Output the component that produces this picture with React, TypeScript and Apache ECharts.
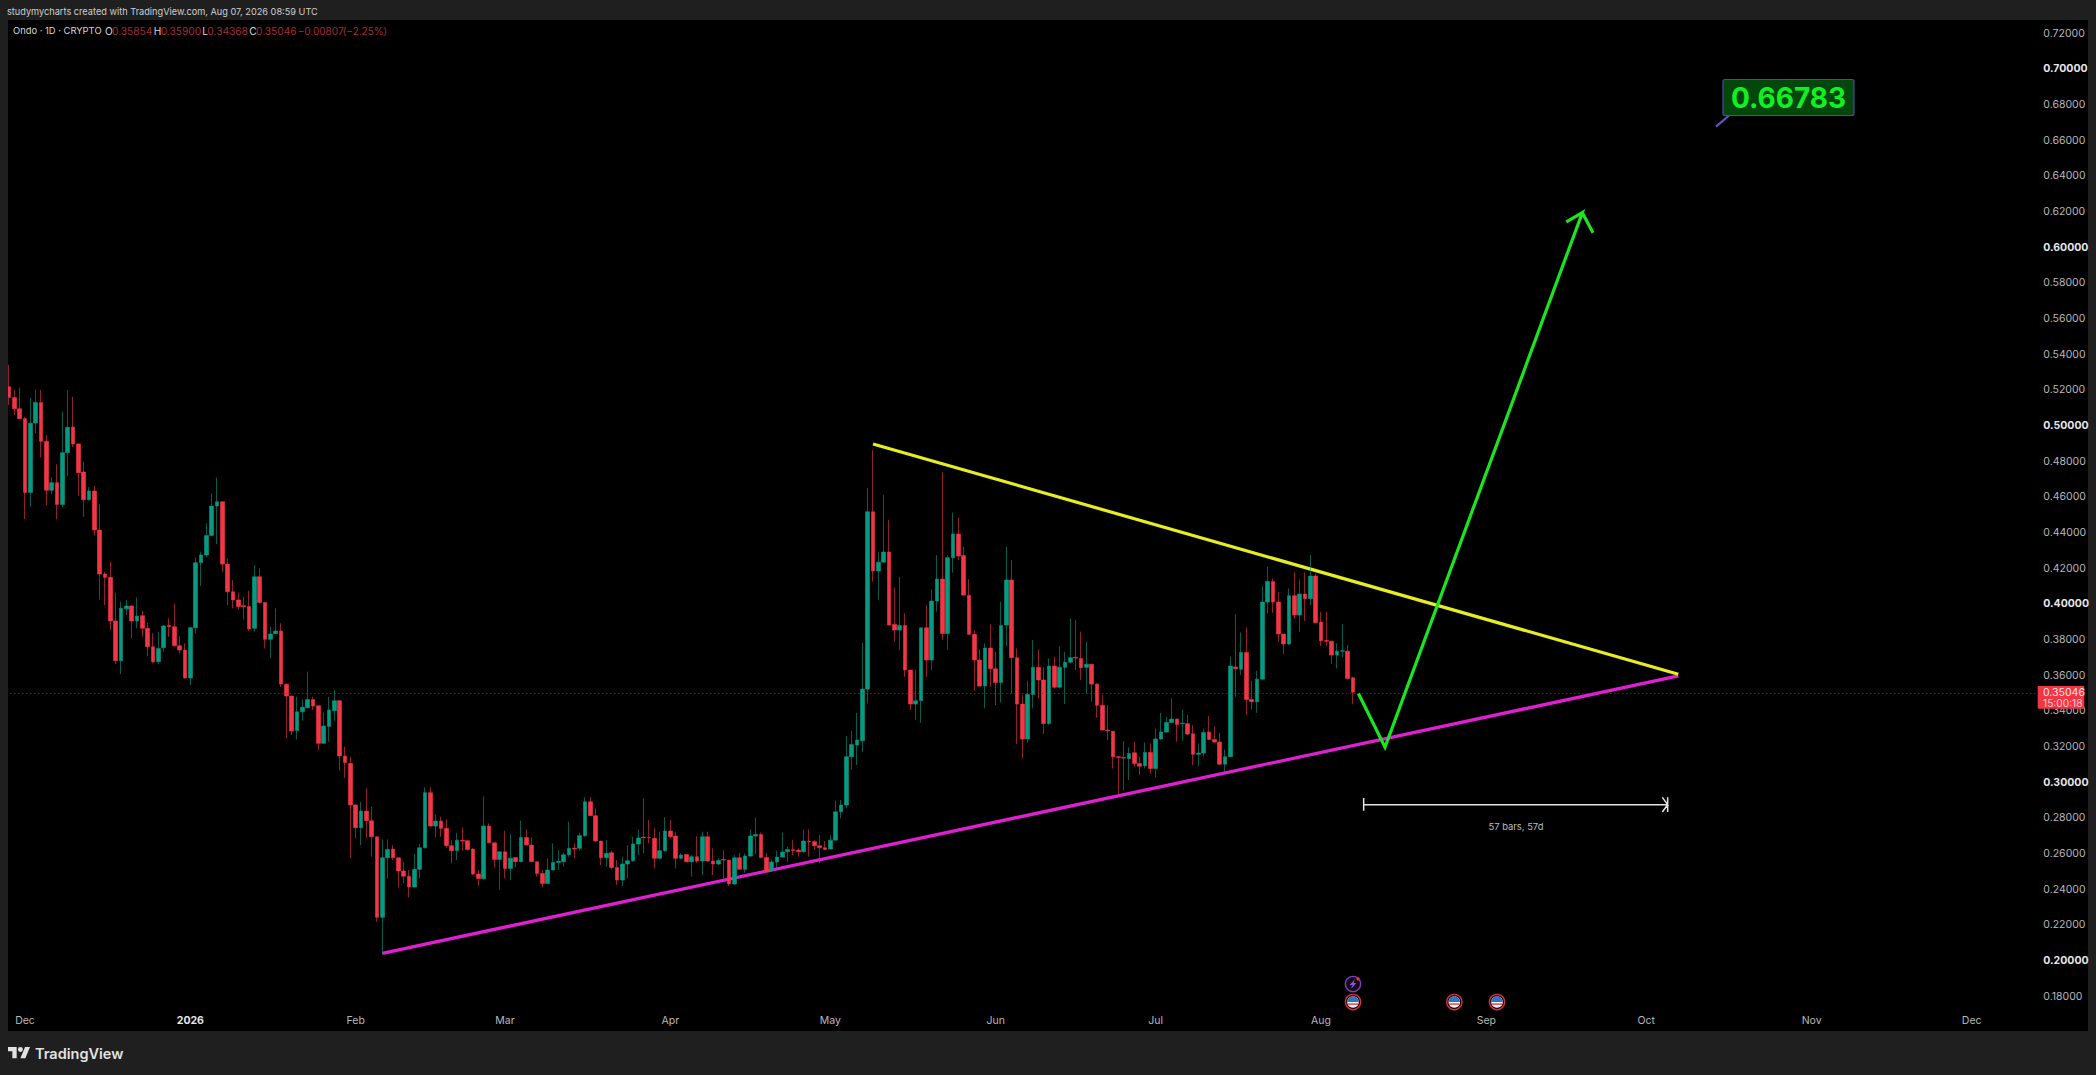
import React, { useEffect, useRef } from 'react';
import * as echarts from 'echarts';

// daily candles from 2025-11-28, each row is open, high, low, close
const ohlc: number[][] = [
  [.5218,.5340,.5115,.5157],[.5157,.5200,.5059,.5095],[.5095,.5213,.5035,.5039],[.5039,.5050,.4476,.4625],
  [.4625,.5157,.4545,.5013],[.5014,.5203,.4957,.5130],[.5130,.5200,.4822,.4912],[.4912,.4947,.4554,.4637],
  [.4637,.4710,.4616,.4680],[.4680,.4783,.4474,.4558],[.4558,.5078,.4541,.4848],[.4848,.5200,.4717,.4990],
  [.4992,.5162,.4878,.4897],[.4897,.4900,.4607,.4736],[.4740,.4798,.4489,.4584],[.4584,.4654,.4580,.4633],
  [.4633,.4661,.4382,.4414],[.4414,.4558,.4025,.4167],[.4167,.4180,.3993,.4149],[.4149,.4237,.3853,.3904],
  [.3904,.4063,.3662,.3681],[.3681,.4012,.3606,.3975],[.3973,.4022,.3937,.3988],[.3988,.3993,.3806,.3904],
  [.3904,.4036,.3863,.3932],[.3934,.3962,.3816,.3863],[.3863,.3894,.3707,.3760],[.3760,.3835,.3666,.3676],
  [.3676,.3844,.3662,.3750],[.3754,.3881,.3732,.3876],[.3879,.3919,.3816,.3872],[.3872,.4001,.3760,.3765],
  [.3765,.3821,.3722,.3741],[.3741,.3778,.3582,.3584],[.3584,.3872,.3545,.3866],[.3866,.4261,.3834,.4231],
  [.4231,.4293,.4100,.4274],[.4274,.4452,.4261,.4384],[.4384,.4620,.4380,.4549],[.4549,.4708,.4336,.4573],
  [.4573,.4573,.4180,.4223],[.4223,.4255,.3993,.4068],[.4068,.4134,.3975,.4022],[.4022,.4063,.3969,.3986],
  [.3990,.4040,.3913,.3984],[.3986,.4074,.3849,.3859],[.3863,.4218,.3844,.4152],[.4152,.4199,.4001,.4008],
  [.4008,.4008,.3750,.3801],[.3801,.3872,.3694,.3831],[.3833,.3975,.3831,.3848],[.3848,.3891,.3535,.3550],
  [.3549,.3555,.3246,.3483],[.3483,.3485,.3264,.3287],[.3289,.3479,.3240,.3395],[.3395,.3464,.3345,.3420],
  [.3418,.3620,.3414,.3464],[.3464,.3479,.3405,.3427],[.3429,.3429,.3180,.3218],[.3218,.3390,.3218,.3315],
  [.3313,.3479,.3227,.3405],[.3401,.3517,.3345,.3457],[.3457,.3460,.3065,.3147],[.3147,.3199,.3024,.3110],
  [.3105,.3143,.2573,.2872],[.2872,.2876,.2685,.2745],[.2745,.2890,.2647,.2838],[.2838,.2965,.2685,.2784],
  [.2784,.2862,.2582,.2694],[.2694,.2694,.2217,.2242],[.2242,.2679,.2040,.2576],[.2576,.2679,.2460,.2623],
  [.2625,.2647,.2563,.2576],[.2576,.2576,.2410,.2502],[.2502,.2554,.2432,.2473],[.2473,.2507,.2354,.2412],
  [.2412,.2597,.2410,.2511],[.2511,.2653,.2460,.2632],[.2632,.2971,.2629,.2941],[.2941,.2971,.2750,.2754],
  [.2754,.2819,.2690,.2782],[.2782,.2806,.2694,.2741],[.2741,.2791,.2634,.2644],[.2644,.2675,.2545,.2616],
  [.2616,.2717,.2563,.2675],[.2674,.2746,.2616,.2670],[.2672,.2672,.2616,.2623],[.2625,.2629,.2479,.2485],
  [.2485,.2507,.2417,.2460],[.2458,.2919,.2455,.2754],[.2754,.2769,.2657,.2660],[.2660,.2660,.2522,.2567],
  [.2567,.2610,.2395,.2610],[.2610,.2728,.2460,.2516],[.2516,.2709,.2451,.2574],[.2578,.2578,.2522,.2554],
  [.2554,.2784,.2554,.2690],[.2690,.2735,.2647,.2647],[.2647,.2690,.2554,.2554],[.2554,.2554,.2470,.2488],
  [.2488,.2507,.2410,.2432],[.2432,.2573,.2432,.2507],[.2507,.2657,.2507,.2550],[.2550,.2619,.2507,.2556],
  [.2554,.2604,.2526,.2593],[.2593,.2778,.2582,.2629],[.2629,.2657,.2573,.2625],[.2629,.2717,.2616,.2700],
  [.2700,.2915,.2694,.2890],[.2890,.2915,.2810,.2812],[.2812,.2853,.2666,.2670],[.2670,.2670,.2535,.2576],
  [.2576,.2675,.2526,.2601],[.2604,.2616,.2511,.2522],[.2522,.2563,.2423,.2451],[.2451,.2582,.2417,.2541],
  [.2541,.2647,.2460,.2559],[.2559,.2694,.2554,.2653],[.2653,.2735,.2591,.2687],[.2692,.2909,.2601,.2689],
  [.2690,.2788,.2657,.2689],[.2685,.2741,.2516,.2573],[.2573,.2722,.2567,.2616],[.2616,.2803,.2610,.2726],
  [.2726,.2788,.2685,.2694],[.2698,.2722,.2516,.2573],[.2573,.2601,.2567,.2591],[.2595,.2595,.2550,.2554],
  [.2554,.2591,.2470,.2582],[.2582,.2698,.2548,.2558],[.2558,.2722,.2479,.2694],[.2694,.2722,.2554,.2558],
  [.2558,.2629,.2479,.2541],[.2541,.2573,.2535,.2561],[.2567,.2619,.2460,.2563],[.2563,.2563,.2417,.2429],
  [.2429,.2591,.2423,.2576],[.2576,.2604,.2511,.2511],[.2511,.2601,.2492,.2586],[.2586,.2735,.2582,.2698],
  [.2698,.2801,.2597,.2707],[.2707,.2717,.2573,.2578],[.2578,.2604,.2496,.2500],[.2503,.2567,.2500,.2552],
  [.2552,.2616,.2516,.2580],[.2580,.2718,.2576,.2608],[.2610,.2638,.2554,.2623],[.2621,.2675,.2591,.2617],
  [.2619,.2629,.2582,.2610],[.2610,.2735,.2604,.2670],[.2670,.2735,.2582,.2666],[.2666,.2675,.2619,.2644],
  [.2644,.2703,.2545,.2632],[.2632,.2670,.2619,.2623],[.2625,.2703,.2623,.2675],[.2675,.2896,.2675,.2834],
  [.2834,.2900,.2797,.2872],[.2872,.3259,.2853,.3143],[.3142,.3288,.3071,.3212],[.3208,.3389,.3096,.3236],
  [.3232,.3782,.3170,.3522],[.3522,.4648,.3442,.4517],[.4517,.4863,.4124,.4184],[.4184,.4292,.4021,.4234],
  [.4234,.4610,.4234,.4291],[.4291,.4470,.3881,.3881],[.3885,.4092,.3788,.3853],[.3853,.4152,.3741,.3879],
  [.3879,.3947,.3591,.3629],[.3629,.3629,.3404,.3438],[.3438,.3632,.3348,.3457],[.3457,.3866,.3333,.3866],
  [.3866,.3993,.3591,.3685],[.3685,.4081,.3629,.4016],[.4016,.4274,.3956,.4139],[.4139,.4741,.3797,.3834],
  [.3834,.4274,.3741,.4259],[.4259,.4513,.4175,.4392],[.4392,.4483,.4246,.4268],[.4272,.4321,.4049,.4049],
  [.4049,.4139,.3825,.3829],[.3829,.3853,.3513,.3685],[.3685,.3745,.3535,.3539],[.3539,.3778,.3414,.3752],
  [.3752,.3885,.3535,.3636],[.3636,.3731,.3432,.3559],[.3559,.4012,.3447,.3879],[.3881,.4321,.3763,.4134],
  [.4134,.4246,.3498,.3698],[.3698,.3750,.3213,.3438],[.3438,.3488,.3133,.3242],[.3242,.3569,.3221,.3492],
  [.3492,.3797,.3414,.3644],[.3644,.3746,.3470,.3573],[.3573,.3644,.3270,.3329],[.3329,.3694,.3320,.3651],
  [.3651,.3703,.3526,.3533],[.3533,.3763,.3526,.3645],[.3644,.3731,.3438,.3672],[.3673,.3918,.3666,.3698],
  [.3700,.3909,.3629,.3696],[.3694,.3844,.3573,.3642],[.3644,.3788,.3498,.3662],[.3662,.3662,.3451,.3550],
  [.3550,.3554,.3360,.3432],[.3432,.3488,.3292,.3292],[.3292,.3432,.3236,.3288],[.3286,.3286,.3077,.3143],
  [.3143,.3145,.2937,.3139],[.3139,.3230,.2955,.3135],[.3133,.3195,.3012,.3161],[.3165,.3227,.3086,.3105],
  [.3105,.3143,.3040,.3090],[.3092,.3223,.3077,.3167],[.3167,.3217,.3049,.3077],[.3077,.3301,.3027,.3242],
  [.3242,.3389,.3236,.3281],[.3281,.3367,.3277,.3335],[.3335,.3470,.3333,.3354],[.3354,.3354,.3227,.3324],
  [.3328,.3408,.3232,.3331],[.3328,.3376,.3264,.3270],[.3272,.3320,.3096,.3156],[.3156,.3217,.3090,.3163],
  [.3163,.3301,.3143,.3279],[.3281,.3371,.3236,.3240],[.3240,.3311,.3221,.3225],[.3225,.3277,.3096,.3101],
  [.3101,.3184,.3058,.3143],[.3143,.3704,.3143,.3651],[.3646,.3943,.3479,.3636],[.3634,.3840,.3601,.3728],
  [.3728,.3868,.3376,.3464],[.3464,.3569,.3408,.3451],[.3451,.3625,.3389,.3578],[.3578,.4100,.3576,.4010],
  [.4010,.4208,.3947,.4126],[.4126,.4143,.3950,.4010],[.4010,.4068,.3788,.3831],[.3831,.3831,.3718,.3775],
  [.3775,.4087,.3769,.4046],[.4046,.4180,.3915,.3937],[.3937,.4137,.3844,.4055],[.4055,.4177,.3904,.4029],
  [.4029,.4274,.3993,.4156],[.4156,.4171,.3894,.3894],[.3898,.3956,.3763,.3793],[.3795,.3956,.3763,.3791],
  [.3791,.3791,.3662,.3713],[.3713,.3778,.3638,.3735],[.3735,.3887,.3700,.3737],[.3735,.3769,.3576,.3582],
  [.35854,.35900,.34368,.35046],
];

// drawings, each point is [bar index, price]
const magentaTrend = [[70, .2040], [313, .3596]];
const yellowTrend = [[162, .4897], [313, .3605]];
const projection = [[253, .3499], [258, .3196], [295, .6194], [292, .6142], [295, .6194], [297, .6082]];
const dateRange = [
  [254, .2911], [254, .2840], [254, .2874], [311, .2874], [310, .2915], [311, .2874],
  [310, .2833], [311, .2874], [311, .2915], [311, .2833],
];
const flagEvents = [[252, .1767], [271, .1767], [279, .1767]];
const boltEvents = [[252, .1868]];

const lastPrice = 0.35046;
const priceTicks = [.18, .20, .22, .24, .26, .28, .30, .32, .34, .36, .38, .40, .42, .44, .46, .48, .50, .52, .54, .56, .58, .60, .62, .64, .66, .68, .70, .72];
const boldPrices = ['0.20000', '0.30000', '0.40000', '0.50000', '0.60000', '0.70000'];
const monthLabels: Record<string, string> = {
  '2025-12-01': 'Dec', '2026-01-01': '2026', '2026-02-01': 'Feb', '2026-03-01': 'Mar', '2026-04-01': 'Apr',
  '2026-05-01': 'May', '2026-06-01': 'Jun', '2026-07-01': 'Jul', '2026-08-01': 'Aug', '2026-09-01': 'Sep',
  '2026-10-01': 'Oct', '2026-11-01': 'Nov', '2026-12-01': 'Dec',
};

const dates: string[] = [];
for (let i = 0; i < 381; i++) {
  dates.push(new Date(Date.UTC(2025, 10, 28 + i)).toISOString().slice(0, 10));
}

const FONT = 'Inter';
const RED = '#f23645';
const GREEN = '#089981';
const FRAME = '#1f1f1f';
const AXIS_TEXT = '#b8b8b8';

const toLine = (points: number[][]) => points.map(([i, p]) => [dates[i], p]);

const drawLine = (name: string, points: number[][], color: string, width: number, z: number) => ({
  name,
  type: 'line',
  data: toLine(points),
  showSymbol: false,
  symbol: 'none',
  z,
  lineStyle: { color, width, join: 'miter', cap: 'butt' },
  silent: true,
});

const legendWhite = '#d6d6d6';
const legendRed = '#a52b3b';
const legendBits: [string, number, string, number][] = [
  ['Ondo · 1D · CRYPTO', 13, legendWhite, 9.4],
  ['O', 105, legendWhite, 10.2], ['0.35854', 112, legendRed, 10.2],
  ['H', 153.7, legendWhite, 10.2], ['0.35900', 160.7, legendRed, 10.2],
  ['L', 202.3, legendWhite, 10.2], ['0.34368', 207.3, legendRed, 10.2],
  ['C', 249.3, legendWhite, 10.2], ['0.35046', 256, legendRed, 10.2],
  ['−0.00807', 297.7, legendRed, 10], ['(−2.25%)', 342.7, legendRed, 10],
];

echarts.graphic.registerShape(
  'tvLogo',
  echarts.graphic.extendPath(
    'M14 22H7V11H0V4h14v18zM28 22h-8l7.5-18h8L28 22zM24 8a4 4 0 1 1-8 0a4 4 0 1 1 8 0z',
    {},
  ),
);

const flagIcon = (_: any, api: any) => {
  const [x, y] = api.coord([api.value(0), api.value(1)]);
  return {
    type: 'group',
    x,
    y,
    children: [
      { type: 'circle', shape: { cx: 0, cy: 0, r: 7.6 }, style: { fill: '#16060a', stroke: '#d9323f', lineWidth: 1.4 } },
      { type: 'circle', shape: { cx: 0, cy: 0, r: 5.8 }, style: { fill: '#f1f1f1' } },
      { type: 'sector', shape: { cx: 0, cy: 0, r: 5.8, r0: 0, startAngle: Math.PI, endAngle: Math.PI * 2 }, style: { fill: '#2f74c4' } },
      { type: 'rect', shape: { x: -5.2, y: 1.4, width: 10.4, height: 1.3 }, style: { fill: '#d9323f' } },
    ],
  };
};

const boltIcon = (_: any, api: any) => {
  const [x, y] = api.coord([api.value(0), api.value(1)]);
  return {
    type: 'group',
    x,
    y,
    children: [
      { type: 'circle', shape: { cx: 0, cy: 0, r: 7.6 }, style: { fill: '#140a1c', stroke: '#7d3fb8', lineWidth: 1.4 } },
      { type: 'polygon', shape: { points: [[2, -5], [-3.4, 0.9], [-0.5, 0.9], [-2, 5], [3.4, -0.9], [0.5, -0.9]] }, style: { fill: '#8d55c8' } },
      { type: 'circle', shape: { cx: 5, cy: -5.2, r: 1.6 }, style: { fill: RED } },
    ],
  };
};

export default function App() {
  const ref = useRef<HTMLDivElement>(null);

  useEffect(() => {
    if (!ref.current) return;
    const chart = echarts.init(ref.current, null, { renderer: 'svg' });
    chart.setOption({
      animation: false,
      backgroundColor: FRAME,
      grid: { left: 6.33, top: 15.5, width: 2032, height: 1016.3 },
      xAxis: {
        type: 'category',
        data: dates,
        axisLine: { show: false },
        axisTick: { show: false },
        splitLine: { show: false },
        axisLabel: {
          inside: true,
          margin: 6,
          color: AXIS_TEXT,
          fontFamily: FONT,
          fontSize: 10.5,
          interval: (_: number, value: string) => value in monthLabels,
          formatter: (value: string) => {
            const text = monthLabels[value] || '';
            return text === '2026' ? `{y|${text}}` : text;
          },
          rich: { y: { color: '#e6e6e6', fontWeight: 'bold', fontFamily: FONT, fontSize: 10.5 } },
        },
      },
      yAxis: {
        type: 'value',
        position: 'right',
        min: 0.16,
        max: 0.73,
        scale: true,
        axisLine: { show: false },
        axisTick: { show: false },
        splitLine: { show: false },
        axisLabel: {
          customValues: priceTicks,
          margin: 5,
          color: AXIS_TEXT,
          fontFamily: FONT,
          fontSize: 10.5,
          formatter: (value: number) => {
            const text = value.toFixed(5);
            return boldPrices.includes(text) ? `{b|${text}}` : text;
          },
          rich: { b: { color: '#e6e6e6', fontWeight: 'bold', fontFamily: FONT, fontSize: 10.5 } },
        },
      },
      series: [
        drawLine('support', magentaTrend, '#e11fd2', 3.3, 1),
        drawLine('resistance', yellowTrend, '#e6ee22', 3.2, 1),
        {
          name: 'Ondo',
          type: 'candlestick',
          barWidth: 4,
          z: 2,
          data: ohlc.map(([o, h, l, c]) => [o, c, l, h]),
          itemStyle: { color: GREEN, color0: RED, borderColor: GREEN, borderColor0: RED, borderWidth: 0.6 },
          markLine: {
            silent: true,
            symbol: 'none',
            label: { show: false },
            lineStyle: { color: '#8c3a44', type: [1, 3], width: 1 },
            data: [{ yAxis: lastPrice }],
          },
        },
        drawLine('projection', projection, '#19e61e', 3.2, 3),
        drawLine('range', dateRange, '#e4e4e4', 1.5, 3),
        { name: 'flags', type: 'custom', z: 4, data: toLine(flagEvents), renderItem: flagIcon, silent: true },
        { name: 'bolts', type: 'custom', z: 4, data: toLine(boltEvents), renderItem: boltIcon, silent: true },
      ],
      graphic: [
        { type: 'rect', z: -1, shape: { x: 8, y: 20, width: 2080, height: 1011 }, style: { fill: '#000' } },
        // frame pieces cover what the grid lets through at the edges
        { type: 'rect', z: 20, shape: { x: 0, y: 0, width: 2096, height: 20 }, style: { fill: FRAME } },
        { type: 'rect', z: 20, shape: { x: 0, y: 0, width: 8, height: 1075 }, style: { fill: FRAME } },
        { type: 'rect', z: 20, shape: { x: 0, y: 1031, width: 2096, height: 44 }, style: { fill: FRAME } },
        {
          type: 'text', z: 21, x: 7, y: 11,
          style: {
            text: 'studymycharts created with TradingView.com, Aug 07, 2026 08:59 UTC',
            fill: '#cfcfcf', font: `9.2px ${FONT}`, textVerticalAlign: 'middle',
          },
        },
        ...legendBits.map(([text, x, fill, size]) => ({
          type: 'text', z: 21, x, y: 30.5,
          style: { text, fill, font: `${size}px ${FONT}`, textVerticalAlign: 'middle' },
        })),
        {
          type: 'text', z: 21, x: 1516, y: 826,
          style: { text: '57 bars, 57d', fill: '#bdbdbd', font: `9.4px ${FONT}`, textAlign: 'center', textVerticalAlign: 'middle' },
        },
        // price note
        { type: 'line', z: 21, shape: { x1: 1716, y1: 126.7, x2: 1729, y2: 115.5 }, style: { stroke: '#6a4fc0', lineWidth: 2.2 } },
        {
          type: 'rect', z: 21,
          shape: { x: 1723, y: 79.5, width: 131, height: 36, r: 2 },
          style: { fill: '#04470c', stroke: '#54479f', lineWidth: 1.2 },
        },
        {
          type: 'text', z: 22, x: 1788.5, y: 98,
          style: { text: '0.66783', fill: '#12f024', font: `bold 28px ${FONT}`, textAlign: 'center', textVerticalAlign: 'middle' },
        },
        // last price tag
        { type: 'rect', z: 21, shape: { x: 2037.7, y: 686, width: 46.6, height: 22.7, r: 1 }, style: { fill: RED } },
        {
          type: 'text', z: 22, x: 2043, y: 692.5,
          style: { text: '0.35046', fill: '#ffe3e5', font: `10.5px ${FONT}`, textVerticalAlign: 'middle' },
        },
        {
          type: 'text', z: 22, x: 2043, y: 702.5,
          style: { text: '15:00:18', fill: '#ffc9ce', font: `10.2px ${FONT}`, textVerticalAlign: 'middle' },
        },
        // footer branding
        { type: 'tvLogo', z: 21, x: 8, y: 1044.5, scaleX: 0.62, scaleY: 0.62, style: { fill: '#e2e2e2' } },
        {
          type: 'text', z: 21, x: 35, y: 1053,
          style: { text: 'TradingView', fill: '#e2e2e2', font: `600 14.5px ${FONT}`, textVerticalAlign: 'middle' },
        },
      ],
    });
    return () => chart.dispose();
  }, []);

  return <div ref={ref} style={{ position: 'absolute', left: 0, top: 0, width: 2096, height: 1075 }} />;
}
